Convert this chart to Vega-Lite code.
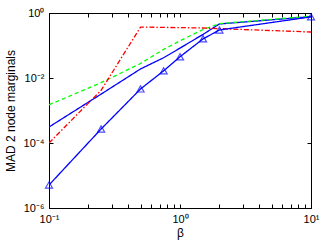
{
  "$schema": "https://vega.github.io/schema/vega-lite/v6.json",
  "width": 262,
  "height": 195,
  "autosize": {"type": "none"},
  "padding": {"left": 49, "top": 13, "right": 21, "bottom": 33},
  "background": "white",
  "config": {
    "view": {"stroke": "black", "strokeWidth": 1},
    "font": "Liberation Sans",
    "axis": {
      "grid": false,
      "domainColor": "black",
      "tickColor": "black",
      "labelColor": "black",
      "titleColor": "black",
      "labelFont": "Liberation Sans",
      "titleFont": "Liberation Sans",
      "labelFontSize": 11,
      "titleFontSize": 12,
      "titleFontWeight": "normal"
    }
  },
  "data": {
    "values": [
      {"beta": 0.1, "mad": 0.00031, "series": "blue"},
      {"beta": 0.25, "mad": 0.0032, "series": "blue"},
      {"beta": 0.5, "mad": 0.019, "series": "blue"},
      {"beta": 0.75, "mad": 0.042, "series": "blue"},
      {"beta": 1, "mad": 0.083, "series": "blue"},
      {"beta": 1.5, "mad": 0.22, "series": "blue"},
      {"beta": 2, "mad": 0.46, "series": "blue"},
      {"beta": 10, "mad": 0.77, "series": "blue"},
      {"beta": 0.1, "mad": 0.0015, "series": "green"},
      {"beta": 0.25, "mad": 0.0072, "series": "green"},
      {"beta": 0.5, "mad": 0.028, "series": "green"},
      {"beta": 0.75, "mad": 0.076, "series": "green"},
      {"beta": 1, "mad": 0.14, "series": "green"},
      {"beta": 1.5, "mad": 0.31, "series": "green"},
      {"beta": 2, "mad": 0.47, "series": "green"},
      {"beta": 10, "mad": 0.8, "series": "green"},
      {"beta": 0.1, "mad": 0.0001, "series": "red"},
      {"beta": 0.25, "mad": 0.0042, "series": "red"},
      {"beta": 0.5, "mad": 0.37, "series": "red"},
      {"beta": 0.75, "mad": 0.36, "series": "red"},
      {"beta": 1, "mad": 0.355, "series": "red"},
      {"beta": 1.5, "mad": 0.345, "series": "red"},
      {"beta": 2, "mad": 0.33, "series": "red"},
      {"beta": 10, "mad": 0.26, "series": "red"},
      {"beta": 0.1, "mad": 0.0000051, "series": "tri"},
      {"beta": 0.25, "mad": 0.00027, "series": "tri"},
      {"beta": 0.5, "mad": 0.0046, "series": "tri"},
      {"beta": 0.75, "mad": 0.0166, "series": "tri"},
      {"beta": 1, "mad": 0.045, "series": "tri"},
      {"beta": 1.5, "mad": 0.16, "series": "tri"},
      {"beta": 2, "mad": 0.3, "series": "tri"},
      {"beta": 10, "mad": 0.76, "series": "tri"}
    ]
  },
  "layer": [
    {
      "mark": {"type": "line", "strokeWidth": 1.3, "clip": true},
      "encoding": {
        "x": {
          "field": "beta", "type": "quantitative",
          "scale": {"type": "log", "domain": [0.1, 10], "nice": false},
          "axis": {
            "orient": "bottom", "title": "β", "titlePadding": 3,
            "values": [0.1, 0.2, 0.3, 0.4, 0.5, 0.6, 0.7, 0.8, 0.9, 1, 2, 3, 4, 5, 6, 7, 8, 9, 10],
            "labelExpr": "datum.value == 0.1 ? '10⁻¹' : datum.value == 1 ? '10⁰' : datum.value == 10 ? '10¹' : ''",
            "tickSize": -4, "labelPadding": 9, "labelFlush": false, "labelOverlap": false
          }
        },
        "y": {
          "field": "mad", "type": "quantitative",
          "scale": {"type": "log", "domain": [0.000001, 1], "nice": false},
          "axis": {
            "orient": "left", "title": "MAD 2 node marginals", "titlePadding": 6,
            "values": [0.000001, 0.0001, 0.01, 1],
            "labelExpr": "datum.value == 0.000001 ? '10⁻⁶' : datum.value == 0.0001 ? '10⁻⁴' : datum.value == 0.01 ? '10⁻²' : '10⁰'",
            "tickSize": -4, "labelPadding": 9, "labelFlush": false, "labelOverlap": false
          }
        },
        "color": {
          "field": "series", "type": "nominal",
          "scale": {"domain": ["red", "green", "blue", "tri"], "range": ["#ff0000", "#00ff00", "#0000ff", "#0000ff"]},
          "legend": null
        },
        "strokeDash": {
          "field": "series", "type": "nominal",
          "scale": {"domain": ["red", "green", "blue", "tri"], "range": [[5, 2, 1.5, 2], [4, 3], [1, 0], [1, 0]]},
          "legend": null
        },
        "order": {"field": "beta", "type": "quantitative"}
      }
    },
    {
      "transform": [{"filter": "datum.series == 'tri'"}],
      "mark": {"type": "point", "shape": "triangle-up", "filled": false, "size": 50, "strokeWidth": 1.2, "color": "#0000ff"},
      "encoding": {
        "x": {
          "field": "beta", "type": "quantitative",
          "scale": {"type": "log", "domain": [0.1, 10], "nice": false},
          "axis": {
            "orient": "top", "title": null, "labels": false, "domain": false,
            "values": [0.1, 0.2, 0.3, 0.4, 0.5, 0.6, 0.7, 0.8, 0.9, 1, 2, 3, 4, 5, 6, 7, 8, 9, 10],
            "tickSize": -4
          }
        },
        "y": {
          "field": "mad", "type": "quantitative",
          "scale": {"type": "log", "domain": [0.000001, 1], "nice": false},
          "axis": {
            "orient": "right", "title": null, "labels": false, "domain": false,
            "values": [0.000001, 0.0001, 0.01, 1],
            "tickSize": -4
          }
        }
      }
    }
  ],
  "resolve": {"axis": {"x": "independent", "y": "independent"}}
}
